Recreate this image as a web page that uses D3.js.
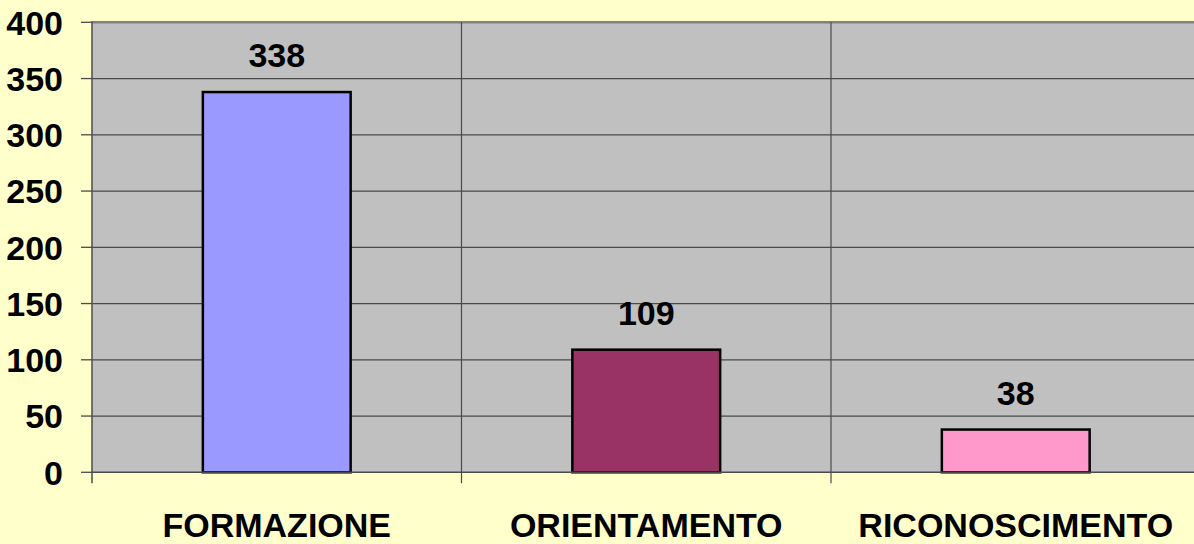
<!DOCTYPE html>
<html>
<head>
<meta charset="utf-8">
<script src="https://cdn.jsdelivr.net/npm/d3@7"></script>
<style>
  html, body { margin: 0; padding: 0; background: #FFFFCC; }
  svg { display: block; }
  text { font-family: "Liberation Sans", Arial, sans-serif; font-weight: bold; fill: #000; }
</style>
</head>
<body>
<svg id="chart" width="1194" height="544"></svg>
<script>
const categories = ["FORMAZIONE", "ORIENTAMENTO", "RICONOSCIMENTO"];
const values = [338, 109, 38];
const barColors = ["#9999FF", "#993366", "#FF99CC"];
const yTicks = [0, 50, 100, 150, 200, 250, 300, 350, 400];

const W = 1194, H = 544;
const margin = { left: 92, top: 22.3, right: -6.5, bottom: 71.7 };
const svg = d3.select("#chart");

const x = d3.scaleBand().domain(categories).range([margin.left, W - margin.right]).padding(0);
const y = d3.scaleLinear().domain([0, 400]).range([H - margin.bottom, margin.top]);
const bw = x.bandwidth();

// plot background
svg.append("rect")
  .attr("x", x.range()[0]).attr("y", y(400))
  .attr("width", x.range()[1] - x.range()[0]).attr("height", y(0) - y(400))
  .attr("fill", "#C0C0C0");

// horizontal gridlines
svg.append("g").selectAll("line").data(yTicks.filter(d => d > 0)).join("line")
  .attr("x1", x.range()[0]).attr("x2", x.range()[1])
  .attr("y1", d => y(d)).attr("y2", d => y(d))
  .attr("stroke", d => d === 400 ? "#808080" : "#4a4a4a")
  .attr("stroke-width", d => d === 400 ? 2.5 : 1.3);

// vertical gridlines at category boundaries (with tick marks below axis)
const bounds = categories.slice(1).map(c => x(c));
svg.append("g").selectAll("line").data([x.range()[0], ...bounds]).join("line")
  .attr("x1", d => d).attr("x2", d => d)
  .attr("y1", (d, i) => i === 0 ? y(400) - 1 : y(400)).attr("y2", y(0) + 11)
  .attr("stroke", (d, i) => i === 0 ? "#555" : "#4a4a4a")
  .attr("stroke-width", (d, i) => i === 0 ? 1.6 : 1.2);

// y axis tick marks
svg.append("g").selectAll("line").data(yTicks).join("line")
  .attr("x1", margin.left - 11).attr("x2", margin.left)
  .attr("y1", d => y(d)).attr("y2", d => y(d))
  .attr("stroke", "#4a4a4a").attr("stroke-width", 1.3);

// bars
svg.append("g").selectAll("rect").data(values).join("rect")
  .attr("x", (d, i) => x(categories[i]) + bw * 0.3)
  .attr("width", bw * 0.4)
  .attr("y", d => y(d))
  .attr("height", d => y(0) - y(d))
  .attr("fill", (d, i) => barColors[i])
  .attr("stroke", "#000").attr("stroke-width", 2.5);

// x axis baseline
svg.append("line")
  .attr("x1", x.range()[0]).attr("x2", x.range()[1])
  .attr("y1", y(0)).attr("y2", y(0))
  .attr("stroke", "#4a4a4a").attr("stroke-width", 1.5);

// value labels
svg.append("g").selectAll("text").data(values).join("text")
  .attr("x", (d, i) => x(categories[i]) + bw / 2)
  .attr("y", d => y(d) - 25)
  .attr("text-anchor", "middle")
  .attr("font-size", "34px")
  .text(d => d);

// y tick labels
svg.append("g").selectAll("text").data(yTicks).join("text")
  .attr("x", 63)
  .attr("y", d => y(d))
  .attr("dy", "0.36em")
  .attr("text-anchor", "end")
  .attr("font-size", "34px")
  .text(d => d);

// category labels
svg.append("g").selectAll("text").data(categories).join("text")
  .attr("x", d => x(d) + bw / 2)
  .attr("y", 537)
  .attr("text-anchor", "middle")
  .attr("font-size", "34px")
  .text(d => d);
</script>
</body>
</html>
